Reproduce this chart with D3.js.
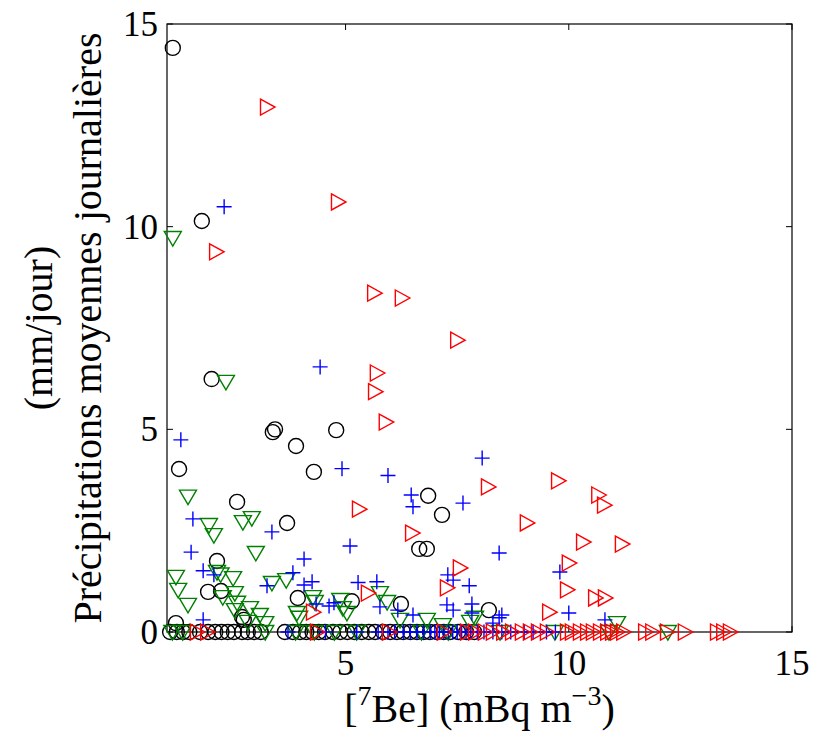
<!DOCTYPE html>
<html>
<head>
<meta charset="utf-8">
<script src="https://cdn.jsdelivr.net/npm/d3@7"></script>
<style>
  body { margin: 0; background: #fff; }
</style>
</head>
<body>
<svg id="chart" width="815" height="732"></svg>
<script>
// tick values
var xTicks = [5, 10, 15];
var yTicks = [0, 5, 10, 15];

// black circles
var circX = [1.13, 1.78, 2.0, 3.37, 3.42, 3.89, 4.79, 4.29, 1.27, 2.57, 3.69, 2.12, 1.92, 2.21, 2.68, 2.72, 3.93, 5.14, 6.24, 6.85, 7.16, 6.65, 6.82, 1.2, 8.21,
    1.07, 1.22, 1.36, 1.50, 1.74, 1.92, 2.08, 2.22, 2.36, 2.50, 2.68, 2.81, 2.95, 3.10, 3.64, 3.82, 3.98, 4.12, 4.26, 4.40, 4.54, 4.72, 4.88, 5.04, 5.20, 5.36, 5.52, 5.66, 5.84, 6.00, 6.15, 6.29, 6.45, 6.60, 6.75, 6.89, 7.05, 7.20, 7.34, 7.52, 7.70, 7.88];
var circY = [14.41, 10.14, 6.24, 4.93, 5.0, 4.59, 4.98, 3.95, 4.02, 3.21, 2.69, 1.75, 0.99, 1.01, 0.37, 0.30, 0.84, 0.76, 0.69, 3.36, 2.89, 2.05, 2.05, 0.22, 0.54,
    0, 0, 0, 0, 0, 0, 0, 0, 0, 0, 0, 0, 0, 0, 0, 0, 0, 0, 0, 0, 0, 0, 0, 0, 0, 0, 0, 0, 0, 0, 0, 0, 0, 0, 0, 0, 0, 0, 0, 0, 0, 0];

// green down triangles
var downX = [1.13, 2.32, 1.47, 1.94, 2.05, 2.70, 2.90, 2.99, 1.2, 1.25, 1.47, 2.12, 2.2, 2.48, 2.52, 2.25, 2.57, 2.52, 2.86, 3.08, 3.2, 2.81, 3.35, 3.67, 3.91, 3.96, 4.27, 4.31, 4.88, 4.94, 5.03, 5.77, 5.93, 6.22, 6.82, 7.18, 7.79, 7.9, 11.08,
    1.12, 1.35, 3.2, 3.88, 4.3, 4.75, 5.25, 6.7, 7.3, 8.46, 9.69, 10.9, 12.22];
var downY = [9.72, 6.17, 3.34, 2.64, 2.39, 2.71, 2.81, 1.95, 1.36, 1.04, 0.67, 1.48, 1.42, 1.33, 0.96, 0.86, 0.72, 0.54, 0.59, 0.42, 0.22, 0.25, 1.21, 1.28, 0.47, 0.35, 0.86, 0.74, 0.79, 0.59, 0.47, 0.96, 0.74, 0.30, 0.30, 0.17, 0.25, 0.35, 0.22,
    0, 0, 0, 0, 0, 0, 0, 0, 0, 0, 0, 0, 0];

// blue plus
var plusX = [2.28, 4.43, 1.31, 4.92, 5.95, 6.47, 6.51, 7.63, 8.06, 8.44, 9.80, 7.77, 7.83, 7.83, 8.44, 10.0, 10.81, 1.58, 1.54, 3.35, 5.10, 1.81, 2.05, 4.07, 3.82, 3.24, 4.25, 4.07, 5.28, 5.70, 4.34, 4.63, 4.74, 5.77, 6.17, 6.51, 1.81, 7.29, 7.41, 7.27, 7.41, 8.5, 8.3,
    3.71, 4.55, 5.25, 5.73, 5.95, 6.1, 6.3, 6.45, 6.6, 6.75, 6.9, 7.0, 7.1, 7.2, 7.3, 7.4, 7.5, 7.6, 7.7, 7.8, 7.95, 8.1, 8.3, 8.5, 8.7, 9.0, 9.2, 9.5, 9.7];
var plusY = [10.49, 6.54, 4.74, 4.03, 3.86, 3.38, 3.09, 3.18, 4.29, 1.95, 1.48, 1.14, 0.69, 0.47, 0.35, 0.47, 0.30, 2.79, 1.97, 2.47, 2.12, 1.51, 1.41, 1.80, 1.46, 1.14, 1.24, 1.16, 1.22, 1.24, 0.69, 0.64, 0.72, 0.62, 0.54, 0.42, 0.30, 1.41, 1.28, 0.67, 0.54, 0.42, 0.22,
    0, 0, 0, 0, 0, 0, 0, 0, 0, 0, 0, 0, 0, 0, 0, 0, 0, 0, 0, 0, 0, 0, 0, 0, 0, 0, 0, 0, 0];

// red right triangles
var rightX = [3.24, 4.83, 2.10, 5.64, 6.26, 7.50, 5.70, 5.66, 5.90, 5.30, 6.49, 8.19, 9.76, 10.66, 10.79, 9.06, 10.32, 11.19, 10.0, 9.96, 10.59, 10.81, 9.56, 7.56, 7.27, 5.50, 4.27,
    1.67, 1.9, 4.36, 5.97, 7.2, 7.72, 7.90, 8.12, 8.30, 8.53, 8.73, 8.95, 9.13, 9.31, 9.51, 9.96, 10.07, 10.25, 10.41, 10.54, 10.70, 10.86, 10.97, 11.08, 11.22, 11.71, 11.87, 12.20, 12.60, 13.32, 13.46, 13.61];
var rightY = [12.95, 10.61, 9.38, 8.36, 8.24, 7.20, 6.39, 5.93, 5.18, 3.03, 2.44, 3.58, 3.73, 3.38, 3.13, 2.69, 2.22, 2.17, 1.70, 1.04, 0.84, 0.84, 0.49, 1.58, 1.09, 0.96, 0.49,
    0, 0, 0, 0, 0, 0, 0, 0, 0, 0, 0, 0, 0, 0, 0, 0, 0, 0, 0, 0, 0, 0, 0, 0, 0, 0, 0, 0, 0, 0, 0, 0];

var FONT = "'Liberation Serif', 'Times New Roman', Tinos, Times, 'DejaVu Serif', serif";

var margin = {left: 167, top: 24, right: 23, bottom: 100};
var W = 815, H = 732;
var pw = W - margin.left - margin.right,
    ph = H - margin.top - margin.bottom;

var x = d3.scaleLinear().domain([1, 15]).range([0, pw]);
var y = d3.scaleLinear().domain([0, 15]).range([ph, 0]);

var svg = d3.select('#chart');
var g = svg.append('g').attr('transform', 'translate(' + margin.left + ',' + margin.top + ')');

function zip(xs, ys) {
    return xs.map(function(v, i) { return [v, ys[i]]; });
}

// frame and inward ticks
function drawFrame() {
    g.append('rect')
        .attr('width', pw).attr('height', ph)
        .attr('fill', 'none').attr('stroke', '#000').attr('stroke-width', 1.2);

    var tl = 6;
    xTicks.forEach(function(t) {
        g.append('line').attr('x1', x(t)).attr('x2', x(t)).attr('y1', ph).attr('y2', ph - tl).attr('stroke', '#000');
        g.append('line').attr('x1', x(t)).attr('x2', x(t)).attr('y1', 0).attr('y2', tl).attr('stroke', '#000');
        g.append('text').attr('x', x(t)).attr('y', ph + 43)
            .attr('font-family', FONT)
            .attr('text-anchor', 'middle').attr('font-size', 35).text(t);
    });
    yTicks.forEach(function(t) {
        g.append('line').attr('x1', 0).attr('x2', tl).attr('y1', y(t)).attr('y2', y(t)).attr('stroke', '#000');
        g.append('line').attr('x1', pw).attr('x2', pw - tl).attr('y1', y(t)).attr('y2', y(t)).attr('stroke', '#000');
        g.append('text').attr('x', -9).attr('y', y(t) + 12)
            .attr('font-family', FONT)
            .attr('text-anchor', 'end').attr('font-size', 35).text(t);
    });
}

function drawMarkers() {
    var sw = 1.4;

    g.selectAll('.circ').data(zip(circX, circY)).enter().append('circle')
        .attr('cx', function(d) { return x(d[0]); })
        .attr('cy', function(d) { return y(d[1]); })
        .attr('r', 7.5)
        .attr('fill', 'none').attr('stroke', '#000').attr('stroke-width', sw);

    g.selectAll('.down').data(zip(downX, downY)).enter().append('path')
        .attr('transform', function(d) { return 'translate(' + x(d[0]) + ',' + y(d[1]) + ')'; })
        .attr('d', 'M-8.5,-6.5L8.5,-6.5L0,8Z')
        .attr('fill', 'none').attr('stroke', '#008000').attr('stroke-width', sw);

    g.selectAll('.plus').data(zip(plusX, plusY)).enter().append('path')
        .attr('transform', function(d) { return 'translate(' + x(d[0]) + ',' + y(d[1]) + ')'; })
        .attr('d', 'M-7.5,0L7.5,0M0,-7.5L0,7.5')
        .attr('fill', 'none').attr('stroke', '#0000ff').attr('stroke-width', sw);

    g.selectAll('.right').data(zip(rightX, rightY)).enter().append('path')
        .attr('transform', function(d) { return 'translate(' + x(d[0]) + ',' + y(d[1]) + ')'; })
        .attr('d', 'M-6.5,-8L8,0L-6.5,8Z')
        .attr('fill', 'none').attr('stroke', '#ff0000').attr('stroke-width', sw);
}

function drawLabels() {
    var xl = svg.append('text')
        .attr('x', margin.left + pw / 2).attr('y', 722)
        .attr('font-family', FONT)
        .attr('text-anchor', 'middle').attr('font-size', 40);
    xl.append('tspan').text('[');
    xl.append('tspan').attr('font-size', 28).attr('dy', -17).text('7');
    xl.append('tspan').attr('dy', 17).text('Be] (mBq m');
    xl.append('tspan').attr('font-size', 28).attr('dy', -17).text('\u22123');
    xl.append('tspan').attr('dy', 17).text(')');

    var cy = margin.top + ph / 2;
    svg.append('text')
        .attr('transform', 'translate(101,' + cy + ') rotate(-90)')
        .attr('font-family', FONT)
        .attr('text-anchor', 'middle').attr('font-size', 40)
        .text('Précipitations moyennes journalières');
    svg.append('text')
        .attr('transform', 'translate(52,' + cy + ') rotate(-90)')
        .attr('font-family', FONT)
        .attr('text-anchor', 'middle').attr('font-size', 40)
        .text('(mm/jour)');
}

drawFrame();
drawMarkers();
drawLabels();
</script>
</body>
</html>
